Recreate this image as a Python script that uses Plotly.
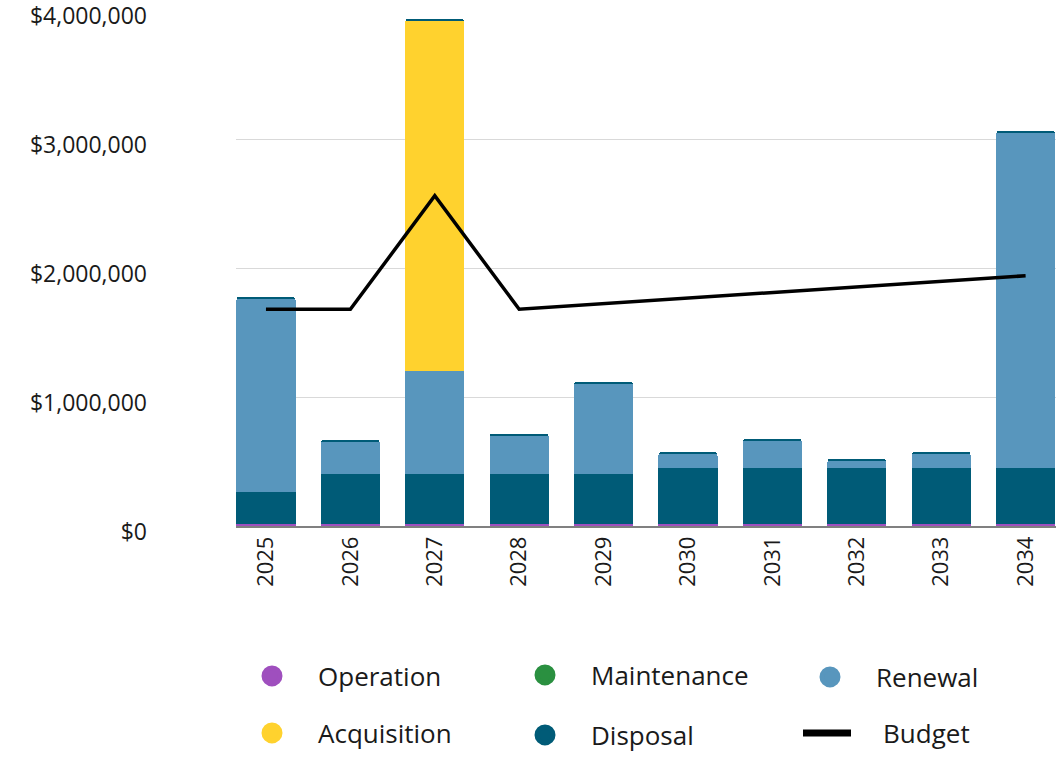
import plotly.graph_objects as go

years = ["2025", "2026", "2027", "2028", "2029", "2030", "2031", "2032", "2033", "2034"]
operation = [15000] * 10
maintenance = [250000, 385000, 385000, 385000, 385000, 435000, 435000, 435000, 435000, 435000]
renewal = [1500000, 255000, 800000, 305000, 705000, 110000, 210000, 55000, 110000, 2600000]
acquisition = [0, 0, 2720000, 0, 0, 0, 0, 0, 0, 0]
disposal = [12000] * 10
budget = [1680000, 1680000, 2560000, 1680000, None, None, None, None, None, 1940000]

tick_vals = [0, 1000000, 2000000, 3000000, 4000000]
tick_text = ["$0", "$1,000,000", "$2,000,000", "$3,000,000", "$4,000,000"]

C_OPER = "#9F4FBE"
C_MAINT = "#2A9040"
C_RENEW = "#5896BD"
C_ACQ = "#FFD22E"
C_DISP = "#005B77"
C_BLOCK = "#005B77"

FONT = "Open Sans"
W, H = 1062, 761

fig = go.Figure()

stack = [
    ("Operation", operation, C_OPER),
    ("Maintenance", maintenance, C_BLOCK),
    ("Renewal", renewal, C_RENEW),
    ("Acquisition", acquisition, C_ACQ),
    ("Disposal", disposal, C_DISP),
]
for name, vals, col in stack:
    fig.add_trace(go.Bar(x=years, y=vals, name=name, marker_color=col,
                         marker_line_width=0, width=0.7, showlegend=False))

fig.add_trace(go.Scatter(x=years, y=budget, mode="lines", connectgaps=True,
                         line=dict(color="black", width=3.5), name="Budget",
                         showlegend=False))

# one single-entry legend per swatch, laid out as a 3 x 2 grid below the axis
legend_items = [
    # name, colour, legend id, left (px), middle (px from top)
    ("Operation", C_OPER, "legend", 226, 676),
    ("Maintenance", C_MAINT, "legend2", 499, 675),
    ("Renewal", C_RENEW, "legend3", 784, 677),
    ("Acquisition", C_ACQ, "legend4", 226, 733),
    ("Disposal", C_DISP, "legend5", 499, 735),
]
legend_layout = {}
legend_common = dict(orientation="h", xref="container", yref="container",
                     xanchor="left", yanchor="middle", itemwidth=82,
                     font=dict(family=FONT, size=26, color="#1a1a1a"),
                     bgcolor="rgba(0,0,0,0)")
for name, col, lg, lx, ly in legend_items:
    fig.add_trace(go.Scatter(x=[None], y=[None], mode="markers", name=name,
                             marker=dict(size=28, color=col, symbol="circle",
                                         line=dict(color=col, width=6)),
                             legend=lg))
    legend_layout[lg] = dict(legend_common, x=lx / W, y=1 - ly / H)

fig.add_trace(go.Scatter(x=[None], y=[None], mode="lines",
                         name="\u00a0\u00a0\u00a0\u00a0Budget",
                         line=dict(color="black", width=7), legend="legend6"))
legend_layout["legend6"] = dict(legend_common, itemwidth=48, x=798 / W, y=1 - 733 / H)

fig.update_layout(
    barmode="stack",
    barcornerradius=3,
    width=W, height=H,
    margin=dict(l=236, r=6, t=10, b=235, autoexpand=False),
    plot_bgcolor="white", paper_bgcolor="white",
    font=dict(family=FONT, size=23, color="#1a1a1a"),
    xaxis=dict(type="category", range=[-0.355, 9.36], tickangle=-90, showgrid=False,
               showline=True, linecolor="#808080", linewidth=1.5, layer="below traces",
               ticks="", tickfont=dict(size=22), automargin=False),
    yaxis=dict(range=[0, 4000000], tickvals=tick_vals, ticktext=tick_text,
               showgrid=True, gridcolor="#d9d9d9", gridwidth=1, zeroline=False,
               showline=False, ticks="", ticklabelstandoff=88, automargin=False,
               ticklabelshift=6, ticklabeloverflow="allow", layer="below traces"),
    **legend_layout,
)

fig.write_html("out.html")
